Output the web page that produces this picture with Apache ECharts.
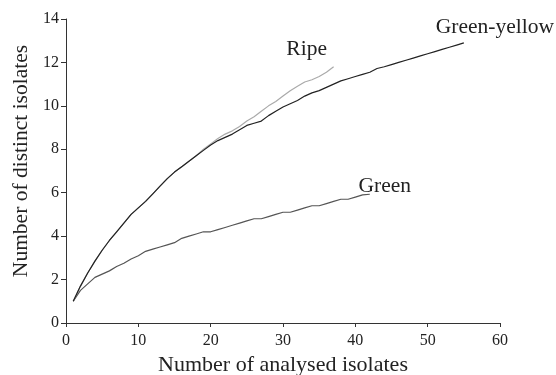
<!DOCTYPE html>
<html>
<head>
<meta charset="utf-8">
<script src="https://cdn.jsdelivr.net/npm/echarts@6/dist/echarts.min.js"></script>
<style>
  html, body { margin: 0; padding: 0; background: #fff; }
  #chart { width: 556px; height: 375px; }
</style>
</head>
<body>
<div id="chart"></div>
<script>
// number of analysed isolates -> number of distinct isolates
const greenYellow = [1, 1.7, 2.3, 2.85, 3.35, 3.8, 4.2, 4.6, 5.0, 5.3, 5.6, 5.95, 6.3, 6.65, 6.95,
  7.2, 7.45, 7.7, 7.95, 8.2, 8.4, 8.55, 8.7, 8.9, 9.1, 9.2, 9.3, 9.55, 9.75, 9.95, 10.1, 10.25,
  10.45, 10.6, 10.7, 10.85, 11.0, 11.15, 11.25, 11.35, 11.45, 11.55, 11.72, 11.8, 11.9, 12.0,
  12.1, 12.2, 12.3, 12.4, 12.5, 12.6, 12.7, 12.8, 12.9]
const ripe = [1, 1.7, 2.3, 2.85, 3.35, 3.8, 4.2, 4.6, 5.0, 5.3, 5.6, 5.95, 6.3, 6.65, 6.95,
  7.2, 7.45, 7.7, 8.0, 8.25, 8.5, 8.7, 8.85, 9.05, 9.3, 9.5, 9.75, 10.0, 10.2, 10.45, 10.7,
  10.9, 11.1, 11.2, 11.35, 11.55, 11.8]
const green = [1, 1.5, 1.8, 2.1, 2.25, 2.4, 2.6, 2.75, 2.95, 3.1, 3.3, 3.4, 3.5, 3.6, 3.7,
  3.9, 4.0, 4.1, 4.2, 4.2, 4.3, 4.4, 4.5, 4.6, 4.7, 4.8, 4.8, 4.9, 5.0, 5.1, 5.1, 5.2, 5.3,
  5.4, 5.4, 5.5, 5.6, 5.7, 5.7, 5.8, 5.9, 5.93]

const FONT = '"Liberation Serif", "Times New Roman", serif'

function toPairs(arr) {
  return arr.map((v, i) => [i + 1, v])
}

function initSeries(name, data, color, offset) {
  const pairs = toPairs(data)
  return {
    name,
    type: 'line',
    data: pairs,
    showSymbol: false,
    smooth: false,
    lineStyle: { color, width: 1.2 },
    markPoint: {
      symbol: 'circle',
      symbolSize: 0,
      data: [{ coord: pairs[pairs.length - 1] }],
      label: {
        show: true,
        formatter: name,
        offset,
        color: '#222',
        fontFamily: FONT,
        fontSize: 21.5
      }
    }
  }
}

const chart = echarts.init(document.getElementById('chart'))

const axisCommon = {
  axisLine: { lineStyle: { color: '#333', width: 1 } },
  splitLine: { show: false },
  axisLabel: { color: '#222', fontFamily: FONT, fontSize: 16 },
  nameLocation: 'middle'
}

chart.setOption({
  animation: false,
  grid: { left: 66, right: 56, top: 19, bottom: 52, outerBoundsMode: 'none' },
  xAxis: Object.assign({}, axisCommon, {
    type: 'value',
    min: 0,
    max: 60,
    interval: 10,
    name: 'Number of analysed isolates',
    nameGap: 30,
    nameTextStyle: { color: '#222', fontFamily: FONT, fontSize: 22 },
    axisTick: { length: 4, lineStyle: { color: '#333' } },
    axisLabel: Object.assign({}, axisCommon.axisLabel, { margin: 10 })
  }),
  yAxis: Object.assign({}, axisCommon, {
    type: 'value',
    min: 0,
    max: 14,
    interval: 2,
    name: 'Number of distinct isolates',
    nameGap: 34,
    nameTextStyle: { color: '#222', fontFamily: FONT, fontSize: 21.5, padding: [0, 0, 0, 20] },
    axisTick: { length: 5, lineStyle: { color: '#333' } },
    axisLabel: Object.assign({}, axisCommon.axisLabel, { margin: 7 })
  }),
  series: [
    initSeries('Green', green, '#555', [15, -8]),
    initSeries('Ripe', ripe, '#aaa', [-27, -17]),
    initSeries('Green-yellow', greenYellow, '#222', [31, -16])
  ]
})
</script>
</body>
</html>
